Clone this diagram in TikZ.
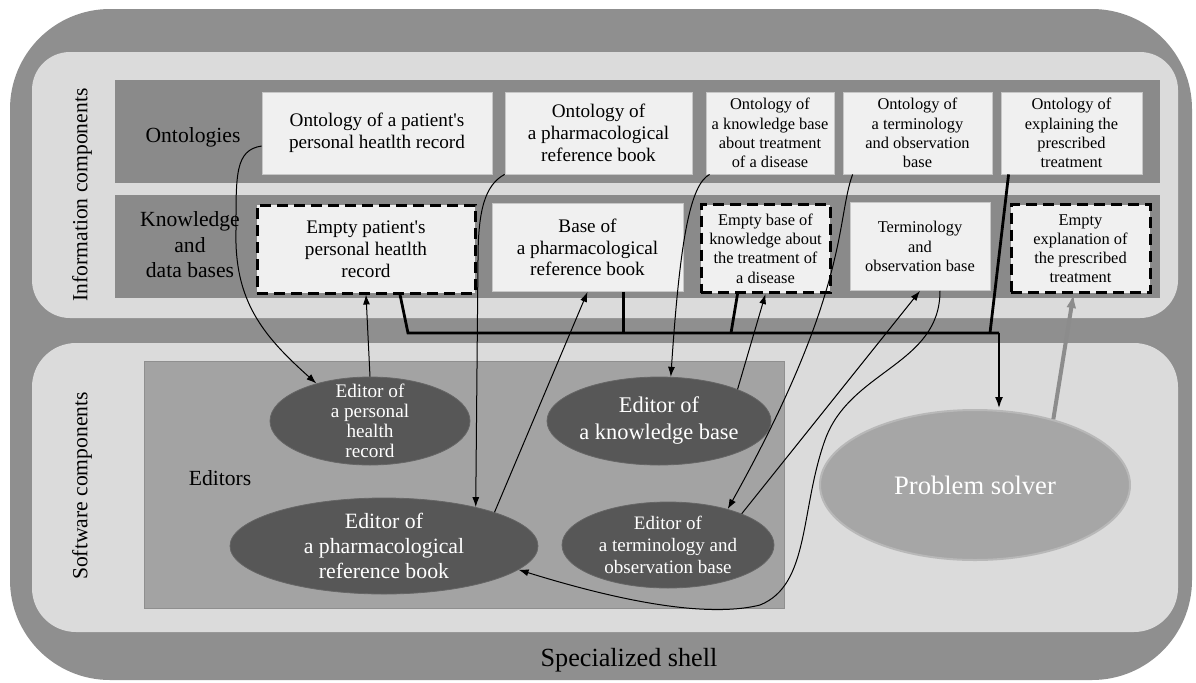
\documentclass[tikz,border=0pt]{standalone}
\usepackage{fontspec}
\setmainfont{Liberation Serif}
\usetikzlibrary{arrows.meta,shapes.geometric,positioning,calc}

\begin{document}
\begin{tikzpicture}[x=0.5pt, y=-0.5pt]
    \tikzset{OntStyle/.style = {draw=black!22, fill=white!94!black,
        inner sep=1pt, align=center, minimum height=41pt},
      BaseStyle/.style = {OntStyle, minimum height=44pt},
      EmptyStyle/.style = {BaseStyle, draw=black, line width=1.5pt,
        dash pattern=on 5.5pt off 3pt},
      EdStyle/.style = {ellipse, fill=black!66, draw=black!60, inner sep=0pt},
      EdText/.style = {text=white, align=center},
      big/.style = {font=\fontsize{9.6}{10.9}\selectfont},
      small/.style = {font=\fontsize{8.2}{9.6}\selectfont},
      lbl/.style = {font=\fontsize{10.8}{12.7}\selectfont, align=center},
      Conn/.style = {line width=0.5pt, -{Latex[length=5pt,width=3.5pt]}},
      Bus/.style = {line width=1.4pt}}
    \useasboundingbox (0,0) rectangle (1196,682);
    \fill[white] (0,0) rectangle (1196,682);
    % shell and panels
    \fill[black!44, rounded corners=50pt] (10,9) rectangle (1192,680);
    \fill[black!14, rounded corners=19pt] (32,52) rectangle (1178,318);
    \fill[black!14, rounded corners=22pt] (32,343) rectangle (1178,632);
    \fill[black!46] (115,80) rectangle (1160,183);
    \fill[black!46] (115,195) rectangle (1160,298);
    \filldraw[fill=black!36, draw=black!44] (144,361) rectangle (784,608);
    \node[rotate=90, lbl] (infolbl) at (82,195) {Information components};
    \node[rotate=90, lbl] (softlbl) at (82,486) {Software components};
    \node[lbl] (ontlbl) at (193,137) {Ontologies};
    \node[lbl] (kblbl) at (190,245) {Knowledge\\and\\data bases};
    \node[lbl] (edlbl) at (220,478) {Editors};
    \node[font=\fontsize{13.1}{15}\selectfont] (shelllbl) at (629,660) {Specialized shell};
    % ontologies
    \node[OntStyle, big, minimum width=115pt] (ont1) at (377,133) {Ontology of a patient\textquotesingle s\\personal heatlth record};
    \node[OntStyle, big, minimum width=93.5pt] (ont2) at (598.5,133) {Ontology of\\a pharmacological\\reference book};
    \node[OntStyle, small, minimum width=64pt] (ont3) at (770,133) {Ontology of\\a knowledge base\\about treatment\\of a disease};
    \node[OntStyle, small, minimum width=74.5pt] (ont4) at (917.5,133) {Ontology of\\a terminology\\and observation\\base};
    \node[OntStyle, small, minimum width=70.5pt] (ont5) at (1071.5,133) {Ontology of\\explaining the\\prescribed\\treatment};
    % knowledge and data bases
    \node[EmptyStyle, big, minimum width=109pt] (kb1) at (366,249) {Empty patient\textquotesingle s\\personal heatlth\\record};
    \node[BaseStyle, big, minimum width=95.5pt] (kb2) at (587.5,247.5) {Base of\\a pharmacological\\reference book};
    \node[EmptyStyle, small, minimum width=64.5pt] (kb3) at (765.5,248.5) {Empty base of\\knowledge about\\the treatment of\\a disease};
    \node[BaseStyle, small, minimum width=70pt] (kb4) at (920,246.5) {Terminology\\and\\observation base};
    \node[EmptyStyle, small, minimum width=69.5pt] (kb5) at (1080.5,248.5) {Empty\\explanation of\\the prescribed\\treatment};
    % editors
    \node[EdStyle, minimum width=100pt, minimum height=44pt,
      label={[EdText, font=\fontsize{9.6}{10}\selectfont]center:{Editor of\\a personal\\health\\record}}] (e1) at (370,421) {};
    \node[EdStyle, minimum width=154pt, minimum height=48pt,
      label={[EdText, font=\fontsize{10.9}{12.7}\selectfont]center:{Editor of\\a pharmacological\\reference book}}] (e2) at (384,546) {};
    \node[EdStyle, minimum width=112pt, minimum height=44pt,
      label={[EdText, font=\fontsize{11.2}{13.5}\selectfont]center:{Editor of\\a knowledge base}}] (e3) at (659,421) {};
    \node[EdStyle, minimum width=106pt, minimum height=43pt,
      label={[EdText, font=\fontsize{9.5}{11}\selectfont]center:{Editor of\\a terminology and\\observation base}}] (e4) at (668,545) {};
    \node[ellipse, fill=black!35, draw=black!28, line width=1pt, inner sep=0pt,
      minimum width=155pt, minimum height=75pt,
      label={[text=white, font=\fontsize{13.3}{15}\selectfont]center:Problem solver}] (ps) at (975,485) {};
    % bus to the solver
    \coordinate (busL) at (408,333);
    \coordinate (busR) at (999,333);
    \coordinate (b3) at (731,333);
    \coordinate (b5) at (990,333);
    \draw[Bus] ([xshift=17pt]kb1.south) -- (busL) -- (busR);
    \draw[Bus] ([xshift=18pt]kb2.south) -- ([xshift=18pt]kb2.south |- busL);
    \draw[Bus] ([xshift=-14pt]kb3.south) -- (b3);
    \draw[Bus] ([xshift=4pt]ont5.south west) -- (b5);
    \draw[Bus, -{Latex[length=6pt,width=4pt]}] (busR) -- (busR |- ps.north);
    % editor links
    \draw[Conn] ([yshift=-6.5pt]ont1.west) .. controls (235,150) and (236,175) .. (236,230)
      .. controls (234,300) and (262,335) .. (e1.145);
    \draw[Conn] (e1.north) -- (kb1.south);
    \draw[Conn] (ont2.south west) .. controls (485,185) and (478,210) .. (478,260) -- (e2.23);
    \draw[Conn] (e2.17) -- (kb2.south);
    \draw[Conn] ([xshift=2pt]ont3.south west) .. controls (690,185) and (680,240) .. (e3.75);
    \draw[Conn] (e3.22) -- (kb3.south);
    \draw[Conn] ([xshift=5pt]ont4.south west) .. controls (836,220) and (850,290) .. (e4.31);
    \draw[Conn] (e4.23) -- (kb4.south);
    \draw[Conn] ([xshift=10pt]kb4.south) .. controls (940,365) and (850,370) .. (825,440)
      .. controls (800,510) and (810,585) .. (760,605)
      .. controls (700,620) and (600,595) .. (e2.-10);
    \draw[line width=2pt, draw=black!45, -{Latex[length=7pt,width=5pt]}] (ps.40) -- ([xshift=-3.5pt]kb5.south);
\end{tikzpicture}
\end{document}
